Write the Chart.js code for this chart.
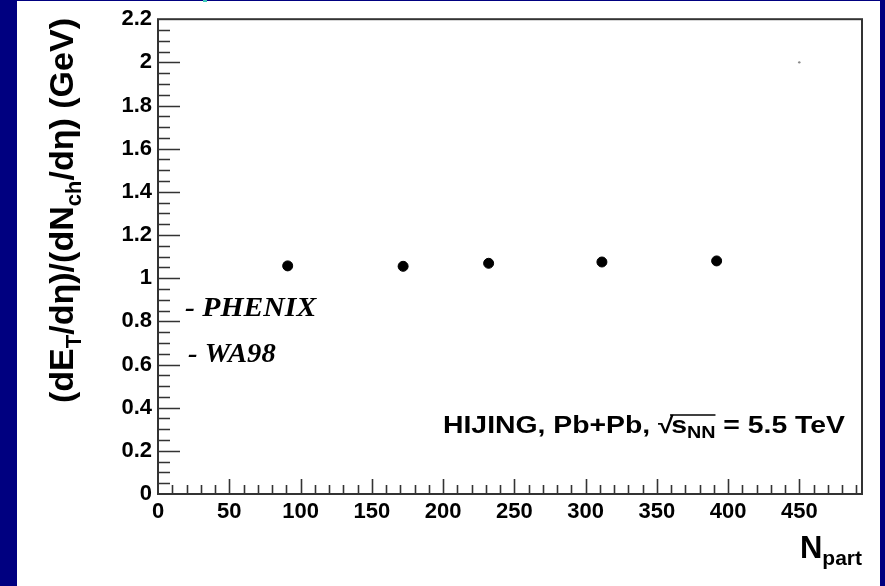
<!DOCTYPE html>
<html>
<head>
<meta charset="utf-8">
<script src="https://cdn.jsdelivr.net/npm/chart.js@4"></script>
<style>
    html, body { margin: 0; padding: 0; }
    body { width: 885px; height: 586px; background: #000080; position: relative; overflow: hidden; }
    #sheet { position: absolute; left: 17px; top: 1px; width: 863px; height: 585px; background: #fff; }
    #speck { position: absolute; left: 203px; top: 0; width: 4px; height: 2px; background: #3cc8b8; }
    #plot { position: absolute; left: 0; top: 0; }
</style>
</head>
<body>
<div id="sheet"></div>
<div id="speck"></div>
<canvas id="plot" width="885" height="586"></canvas>
<script>
// HIJING points
const nPart = [91, 172, 232, 311.5, 392];
const etOverNch = [1.057, 1.055, 1.069, 1.075, 1.080];
// the lone grey speck in the top right corner
const strayX = [450];
const strayY = [2.0];

const xLabels = [0, 50, 100, 150, 200, 250, 300, 350, 400, 450];
const yLabels = [0, 0.2, 0.4, 0.6, 0.8, 1, 1.2, 1.4, 1.6, 1.8, 2, 2.2];

const SANS = '"Liberation Sans", Arial, sans-serif';
const SERIF = '"Liberation Serif", "Times New Roman", serif';

// ROOT style frame with inward ticks
const rootFrame = {
    id: 'rootFrame',
    afterDraw(chart) {
        const { ctx, chartArea: a, scales: { x, y } } = chart;
        ctx.save();
        ctx.strokeStyle = '#333';
        ctx.lineWidth = 2;
        ctx.strokeRect(a.left, a.top, a.right - a.left, a.bottom - a.top);
        ctx.lineWidth = 1.6;
        ctx.beginPath();
        for (let v = 10; v < x.max; v += 10) {
            const px = Math.round(x.getPixelForValue(v)) + 0.5;
            const len = v % 50 === 0 ? 15 : 9;
            ctx.moveTo(px, a.bottom);
            ctx.lineTo(px, a.bottom - len);
        }
        for (let i = 1; i < 44; i++) {
            const v = i * 0.05;
            const py = Math.round(y.getPixelForValue(v)) + 0.5;
            const len = i % 4 === 0 ? 22 : 12;
            ctx.moveTo(a.left, py);
            ctx.lineTo(a.left + len, py);
        }
        ctx.stroke();
        ctx.restore();
    }
};

// draw a run of text pieces, some lowered as subscripts
function drawRuns(ctx, runs, x, y) {
    let cx = x;
    runs.forEach(r => {
        ctx.font = r.font;
        ctx.fillText(r.text, cx, y + (r.dy || 0));
        cx += ctx.measureText(r.text).width;
    });
    return cx;
}

function runsWidth(ctx, runs) {
    let w = 0;
    runs.forEach(r => { ctx.font = r.font; w += ctx.measureText(r.text).width; });
    return w;
}

// the picture is stretched sideways, so text is widened a little
function stretched(ctx, x, y, sx, fn) {
    ctx.save();
    ctx.translate(x, y);
    ctx.scale(sx, 1);
    fn();
    ctx.restore();
}

const textLayer = {
    id: 'textLayer',
    afterDraw(chart) {
        const { ctx } = chart;
        ctx.save();
        ctx.fillStyle = '#000';
        ctx.textBaseline = 'alphabetic';
        ctx.textAlign = 'left';

        // y title, rotated
        const big = 'bold 34px ' + SANS;
        const sub = 'bold 22px ' + SANS;
        const yRuns = [
            { text: '(dE', font: big },
            { text: 'T', font: sub, dy: 8 },
            { text: '/d\u03b7)/(dN', font: big },
            { text: 'ch', font: sub, dy: 8 },
            { text: '/d\u03b7) (GeV)', font: big }
        ];
        ctx.save();
        ctx.translate(73, 403);
        ctx.rotate(-Math.PI / 2);
        const yw = runsWidth(ctx, yRuns);
        ctx.scale(385 / yw, 1);
        drawRuns(ctx, yRuns, 0, 0);
        ctx.restore();

        // x title
        const xRuns = [
            { text: 'N', font: 'bold 31px ' + SANS },
            { text: 'part', font: 'bold 21px ' + SANS, dy: 7 }
        ];
        drawRuns(ctx, xRuns, 862 - runsWidth(ctx, xRuns), 558);

        // experiment labels
        ctx.font = 'italic bold 27px ' + SERIF;
        stretched(ctx, 185, 316, 1.1, () => ctx.fillText('- PHENIX', 0, 0));
        stretched(ctx, 188, 362, 1.06, () => ctx.fillText('- WA98', 0, 0));

        // HIJING caption with sqrt(s_NN)
        const f = 'bold 23px ' + SANS;
        const fs = 'bold 16px ' + SANS;
        const head = [{ text: 'HIJING, Pb+Pb, ', font: f }];
        const rad = [{ text: 's', font: f }, { text: 'NN', font: fs, dy: 5 }];
        const tail = [{ text: ' = 5.5 TeV', font: f }];
        ctx.font = f;
        const total = runsWidth(ctx, head) + ctx.measureText('\u221a').width - 2 +
            runsWidth(ctx, rad) + runsWidth(ctx, tail);
        stretched(ctx, 443, 433, 402 / total, () => {
            let cx = drawRuns(ctx, head, 0, 0);
            ctx.font = f;
            ctx.fillText('\u221a', cx, 0);
            cx += ctx.measureText('\u221a').width - 2;
            const rootStart = cx;
            cx = drawRuns(ctx, rad, cx, 0);
            ctx.lineWidth = 1.5;
            ctx.strokeStyle = '#000';
            ctx.beginPath();
            ctx.moveTo(rootStart - 1, -18);
            ctx.lineTo(cx, -18);
            ctx.stroke();
            drawRuns(ctx, tail, cx, 0);
        });
        ctx.restore();
    }
};

new Chart(document.getElementById('plot'), {
    type: 'scatter',
    data: {
        datasets: [{
            data: nPart.map((v, i) => ({ x: v, y: etOverNch[i] })),
            backgroundColor: '#000',
            borderColor: '#000',
            pointRadius: 5,
            pointHoverRadius: 5
        }, {
            data: strayX.map((v, i) => ({ x: v, y: strayY[i] })),
            backgroundColor: '#888',
            borderColor: '#888',
            borderWidth: 0,
            pointRadius: 1.2
        }]
    },
    options: {
        responsive: false,
        animation: false,
        events: [],
        layout: { padding: { left: 0, top: 14, right: 23, bottom: 0 } },
        plugins: {
            legend: { display: false },
            tooltip: { enabled: false }
        },
        scales: {
            x: {
                type: 'linear',
                min: 0,
                max: 494,
                grid: { display: false, drawTicks: false },
                border: { display: false },
                afterBuildTicks: s => { s.ticks = xLabels.map(v => ({ value: v })); },
                afterFit: s => { s.height = 92; },
                ticks: {
                    color: '#000',
                    padding: 5,
                    maxRotation: 0,
                    autoSkip: false,
                    font: { family: SANS, size: 22, weight: 'bold' }
                }
            },
            y: {
                type: 'linear',
                min: 0,
                max: 2.2,
                grid: { display: false, drawTicks: false },
                border: { display: false },
                afterBuildTicks: s => { s.ticks = yLabels.map(v => ({ value: v })); },
                afterFit: s => { s.width = 158; },
                ticks: {
                    color: '#000',
                    padding: 6,
                    autoSkip: false,
                    callback: v => String(+v.toFixed(1)),
                    font: { family: SANS, size: 22, weight: 'bold' }
                }
            }
        }
    },
    plugins: [rootFrame, textLayer]
});
</script>
</body>
</html>
